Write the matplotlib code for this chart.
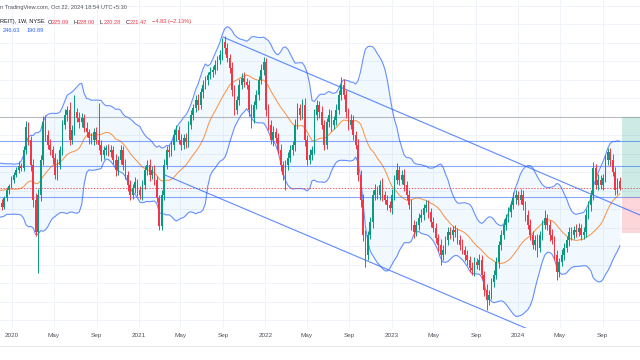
import matplotlib
matplotlib.use("Agg")
import matplotlib.pyplot as plt
import matplotlib.dates as mdates
import numpy as np
import pandas as pd
from matplotlib.lines import Line2D
from matplotlib.patches import Rectangle

plt.rcParams["font.family"] = ["Liberation Sans", "DejaVu Sans"]

# weekly candles (1W, NYSE), first bar 2019-11-25, last bar 2024-10-21
start_week = "2019-11-25"
first_open = 216.0
warmup_closes = [210, 213, 212, 222, 226, 230, 230, 233, 222, 228,
                 226, 222, 224, 225, 218, 215, 208, 212, 216]
closes = [
    213.4, 211.2, 216.1, 220.4, 222.6, 225.8, 228.5, 231.2, 233.4, 232.3,
    242.0, 254.4, 247.4, 233.9, 215.0, 197.7, 217.7, 236.6, 257.1, 250.1,
    244.7, 242.0, 237.7, 228.5, 233.9, 242.0, 255.5, 260.9, 263.6, 247.4,
    252.8, 262.5, 259.3, 257.1, 259.3, 253.9, 251.7, 248.5, 247.4, 251.7,
    247.4, 244.7, 239.3, 242.0, 243.1, 240.9, 242.0, 236.6, 231.2, 236.6,
    242.0, 233.9, 228.5, 223.1, 217.7, 221.5, 224.7, 220.4, 217.7, 223.1,
    231.2, 233.9, 228.5, 231.2, 225.8, 216.1, 201.0, 217.7, 233.9, 242.0,
    240.9, 244.7, 250.1, 252.8, 247.4, 244.7, 248.5, 246.3, 255.5, 260.9,
    264.7, 269.0, 266.3, 273.3, 277.1, 279.8, 282.5, 284.1, 285.2, 287.9,
    290.6, 293.3, 300.3, 297.1, 291.7, 286.3, 274.4, 263.6, 269.0, 277.1,
    280.9, 278.7, 277.1, 263.6, 259.3, 266.3, 271.7, 279.8, 285.2, 289.5,
    263.6, 255.5, 247.4, 251.7, 248.5, 242.0, 233.9, 228.5, 233.9, 237.7,
    242.0, 244.7, 255.5, 264.7, 260.9, 266.3, 247.4, 236.6, 239.3, 242.0,
    260.9, 266.3, 262.5, 255.5, 244.7, 257.1, 260.9, 255.5, 258.2, 263.6,
    271.7, 277.1, 271.7, 262.5, 255.5, 258.2, 250.1, 244.7, 228.5, 215.0,
    196.1, 185.3, 196.1, 203.1, 217.7, 220.4, 217.7, 223.1, 217.7, 215.0,
    212.3, 210.7, 217.7, 225.8, 231.2, 225.8, 228.5, 223.1, 217.7, 212.3,
    201.5, 197.7, 201.5, 205.3, 206.9, 210.7, 212.3, 208.5, 203.1, 199.9,
    194.5, 190.7, 185.3, 188.0, 193.4, 197.7, 196.1, 198.8, 197.7, 193.4,
    190.7, 188.0, 185.3, 182.6, 178.3, 177.2, 181.5, 179.9, 182.6, 174.5,
    166.4, 161.0, 163.7, 170.7, 174.5, 181.5, 190.7, 196.1, 201.5, 205.3,
    208.5, 212.3, 216.1, 217.7, 215.0, 217.7, 212.3, 206.9, 201.5, 196.1,
    190.7, 193.4, 189.1, 196.1, 201.5, 205.3, 201.5, 196.1, 193.4, 185.3,
    176.1, 181.5, 185.3, 189.1, 193.4, 197.7, 196.1, 198.8, 197.7, 199.9,
    196.1, 197.7, 206.9, 212.3, 217.7, 232.3, 223.1, 225.8, 223.1, 226.9,
    236.6, 240.9, 236.6, 230.1, 220.4, 225.1, 221.47,
]
upper_wick = [
    1.5, 2.0, 1.2, 1.8, 1.0, 2.2, 1.4, 1.6, 2.4, 1.8,
    2.0, 3.0, 2.5, 2.0, 3.5, 4.0, 3.0, 2.5, 3.0, 4.0,
    2.5, 3.0, 2.0, 2.5, 3.5, 2.0, 2.5, 3.0, 2.0, 4.5,
    2.5, 9.0, 2.0, 3.0, 2.5, 2.0, 3.0, 1.5, 2.5, 2.0,
    2.5, 20.0, 2.5, 2.0, 1.5, 2.0, 2.5, 2.0, 3.0, 2.0,
    2.5, 2.0, 3.0, 2.0, 2.5, 2.0, 3.0, 1.5, 2.0, 2.5,
    2.0, 2.5, 3.0, 2.0, 2.5, 2.0, 1.5, 2.5, 3.0, 2.0,
    2.5, 2.0, 3.0, 2.5, 2.0, 3.5, 2.0, 2.5, 2.0, 2.5,
    2.0, 2.5, 3.0, 2.0, 2.5, 2.0, 1.5, 2.5, 2.0, 2.5,
    2.0, 2.5, 2.2, 3.0, 2.5, 2.0, 3.0, 2.5, 2.0, 3.5,
    2.5, 3.0, 2.0, 2.5, 3.0, 2.0, 2.5, 2.0, 3.0, 2.7,
    2.0, 3.5, 2.5, 3.0, 2.0, 2.5, 3.0, 2.0, 2.5, 3.0,
    2.5, 2.0, 3.0, 2.5, 2.0, 3.0, 4.0, 2.5, 3.0, 2.0,
    3.0, 2.5, 2.0, 3.0, 2.5, 2.0, 3.0, 2.5, 2.0, 3.0,
    2.5, 4.3, 3.0, 2.5, 2.0, 3.0, 2.5, 2.0, 3.0, 2.5,
    3.0, 2.5, 2.0, 3.0, 2.5, 3.0, 2.0, 2.5, 4.0, 2.0,
    2.5, 2.0, 3.0, 2.5, 3.8, 2.0, 2.5, 3.0, 2.0, 2.5,
    3.0, 2.5, 2.0, 2.5, 3.0, 2.0, 2.7, 2.5, 2.0, 3.0,
    2.5, 2.0, 3.0, 2.5, 2.0, 2.5, 3.0, 2.0, 2.5, 2.0,
    2.5, 3.0, 2.0, 2.5, 2.0, 3.0, 2.5, 2.0, 3.0, 2.5,
    2.0, 3.0, 2.5, 2.0, 2.5, 3.0, 2.0, 2.5, 3.0, 2.0,
    2.5, 2.0, 3.2, 2.5, 2.0, 3.0, 2.5, 2.0, 2.5, 3.0,
    2.0, 2.5, 3.0, 2.0, 2.5, 4.3, 2.0, 2.5, 3.0, 2.0,
    2.5, 2.0, 3.0, 2.5, 2.0, 3.0, 2.5, 2.0, 3.0, 2.5,
    2.0, 2.5, 3.0, 2.0, 2.5, 3.2, 2.0, 3.0, 2.5, 2.0,
    2.5, 2.2, 2.0, 3.0, 2.5, 2.0, 2.53,
]
lower_wick = [
    1.2, 1.8, 1.0, 1.5, 2.0, 1.2, 1.6, 1.0, 1.4, 1.8,
    1.5, 2.0, 2.5, 3.0, 3.5, 2.0, 22.0, 3.0, 2.5, 3.0,
    2.0, 2.5, 3.0, 2.0, 2.5, 2.0, 2.5, 2.0, 3.0, 2.5,
    2.0, 2.5, 2.0, 3.0, 2.5, 2.0, 2.5, 3.0, 2.0, 2.5,
    2.0, 2.5, 3.0, 2.0, 2.5, 2.0, 2.5, 2.0, 3.0, 2.5,
    2.0, 2.5, 2.0, 3.0, 2.5, 2.0, 2.5, 3.0, 2.0, 2.5,
    2.0, 2.5, 3.0, 2.0, 2.5, 2.0, 2.2, 2.0, 2.5, 2.0,
    2.5, 2.0, 2.5, 3.0, 2.0, 2.5, 2.0, 3.0, 2.5, 2.0,
    2.5, 2.0, 2.5, 2.0, 3.0, 2.0, 2.5, 2.0, 2.5, 2.0,
    2.5, 2.0, 2.5, 3.0, 2.0, 2.5, 3.0, 2.5, 2.0, 2.5,
    2.0, 2.5, 2.0, 3.0, 5.4, 2.5, 2.0, 2.5, 2.0, 2.5,
    3.0, 2.5, 2.0, 3.0, 2.5, 2.0, 3.0, 2.5, 8.0, 2.5,
    2.0, 2.5, 3.0, 2.0, 2.5, 2.0, 3.0, 2.5, 2.0, 2.5,
    2.0, 2.5, 3.0, 2.0, 2.5, 2.0, 2.5, 3.0, 2.0, 2.5,
    2.0, 2.5, 2.0, 3.0, 2.5, 2.0, 2.5, 2.0, 3.0, 3.5,
    3.0, 6.5, 2.5, 2.0, 3.0, 2.5, 2.0, 2.5, 3.0, 2.0,
    2.5, 2.0, 3.0, 2.5, 2.0, 2.5, 2.0, 3.0, 2.5, 2.0,
    2.5, 3.0, 2.0, 2.5, 2.0, 2.5, 2.0, 3.0, 2.5, 2.0,
    2.5, 3.0, 5.4, 2.5, 2.0, 2.5, 2.0, 3.0, 2.5, 2.0,
    2.5, 2.0, 3.0, 2.5, 2.0, 2.5, 3.0, 2.0, 2.5, 2.0,
    3.0, 5.4, 2.5, 2.0, 2.5, 2.0, 3.0, 2.5, 2.0, 2.5,
    2.0, 2.5, 2.0, 3.0, 2.5, 2.0, 2.5, 3.0, 2.0, 2.5,
    2.0, 2.5, 4.9, 2.0, 2.5, 2.0, 2.5, 3.0, 2.0, 2.5,
    4.3, 2.5, 2.0, 2.5, 2.0, 3.0, 2.5, 2.0, 2.5, 2.0,
    2.5, 2.0, 2.5, 2.0, 3.0, 2.5, 2.0, 2.5, 2.0, 2.5,
    2.0, 2.5, 3.0, 2.0, 2.5, 2.0, 1.19,
]

# drawings on the chart
levels = [259.8, 246.9, 233.4, 216.6]
level_colors = ["#8a8d96", "#2962FF", "#2962FF", "#2962FF"]
last_close = 221.47
box_start = "2024-10-28"
target_price, entry_price, stop_price = 259.8, 216.6, 197.2
channel_top = [("2021-09-01", 303.0), ("2024-12-18", 206.9)]
channel_bottom = [("2021-03-17", 228.5), ("2024-02-19", 143.7)]

tick_dates = ["2020-01-01", "2020-05-01", "2020-09-01", "2021-01-01", "2021-05-01",
              "2021-09-01", "2022-01-01", "2022-05-01", "2022-09-01", "2023-01-01",
              "2023-05-01", "2023-09-01", "2024-01-01", "2024-05-01", "2024-09-01"]
tick_labels = ["2020", "May", "Sep", "2021", "May", "Sep", "2022", "May", "Sep",
               "2023", "May", "Sep", "2024", "May", "Sep"]

UP, DOWN = "#089981", "#F23645"

# candles
dates = pd.date_range(start_week, periods=len(closes), freq="W-MON")
c = np.array(closes)
o = np.concatenate([[first_open], c[:-1]])
hi = np.maximum(o, c) + np.array(upper_wick)
lo = np.minimum(o, c) - np.array(lower_wick)
xd = mdates.date2num(dates)
colors = np.where(c >= o, UP, DOWN)

# bollinger bands 20, 2
allc = pd.Series(warmup_closes + closes)
basis = allc.rolling(20).mean()
dev = allc.rolling(20).std(ddof=0)
n0 = len(warmup_closes)
bb_up = (basis + 2 * dev).values[n0:]
bb_lo = (basis - 2 * dev).values[n0:]
bb_mid = basis.values[n0:]

fig = plt.figure(figsize=(6.4, 3.6), dpi=100)
ax = fig.add_axes([0, 32 / 360, 1, 328 / 360])
ax.set_xlim(mdates.datestr2num("2019-11-27"), mdates.datestr2num("2024-12-18"))
ax.set_ylim(145.9, 323.0)
for s in ax.spines.values():
    s.set_visible(False)

# grid
for p in range(150, 330, 10):
    ax.axhline(p, color="#f0f3fa", lw=0.7, zorder=0)
tx = mdates.datestr2num(tick_dates)
for t in tx:
    ax.axvline(t, color="#f0f3fa", lw=0.7, zorder=0)
ax.set_xticks(tx)
ax.set_xticklabels(tick_labels)
ax.set_yticks([])
ax.tick_params(axis="x", length=0, pad=3.5, labelsize=4.6, labelcolor="#50535e")

# bands
ax.fill_between(xd, bb_lo, bb_up, color="#2196F3", alpha=0.06, lw=0, zorder=1)
ax.plot(xd, bb_up, color="#2962FF", lw=0.8, alpha=0.7, zorder=2)
ax.plot(xd, bb_lo, color="#2962FF", lw=0.8, alpha=0.7, zorder=2)
ax.plot(xd, bb_mid, color="#FF6D00", lw=0.7, alpha=0.75, zorder=2)

# horizontal levels
for lv, col in zip(levels, level_colors):
    ax.axhline(lv, color=col, lw=0.8, alpha=0.55, zorder=2)
ax.axhline(last_close, color=DOWN, lw=0.7, ls=(0, (1.5, 1.5)), alpha=0.8, zorder=2)

# channel
for line in (channel_top, channel_bottom):
    xs = mdates.datestr2num([p[0] for p in line])
    ys = [p[1] for p in line]
    ax.plot(xs, ys, color="#2962FF", lw=0.8, alpha=0.75, zorder=3)

# long position box
bx = mdates.datestr2num(box_start)
bw = mdates.datestr2num("2025-03-01") - bx
ax.add_patch(Rectangle((bx, entry_price), bw, target_price - entry_price,
                       facecolor=UP, alpha=0.2, lw=0, zorder=2))
ax.add_patch(Rectangle((bx, stop_price), bw, entry_price - stop_price,
                       facecolor=DOWN, alpha=0.2, lw=0, zorder=2))

# candles
ax.vlines(xd, lo, hi, colors=colors, lw=0.7, zorder=4)
body = np.maximum(np.abs(c - o), 0.4)
ax.bar(xd, body, bottom=np.minimum(o, c), width=4.8, color=colors, lw=0, zorder=5)

# header text
def px(x, y):
    return x / 640, 1 - y / 360

fs = 4.1
fig.text(*px(0, 7), "n TradingView.com, Oct 22, 2024 18:54 UTC+5:30",
         fontsize=fs, color="#50535e", va="center")
fig.text(*px(0, 22), "REIT), 1W, NYSE", fontsize=fs, color="#131722", va="center")
parts = [(48, "O", "225.09"), (74, "H", "228.00"), (100, "L", "220.28"), (126, "C", "221.47")]
for x, k, v in parts:
    fig.text(*px(x, 22), k, fontsize=fs, color="#131722", va="center")
    fig.text(*px(x + 4.0, 22), v, fontsize=fs, color=DOWN, va="center")
fig.text(*px(152, 22), "\u22124.83 (\u22122.13%)", fontsize=fs, color=DOWN, va="center")
fig.text(*px(3, 30), "246.63", fontsize=fs, color="#2962FF", va="center")
fig.text(*px(27, 30), "190.89", fontsize=fs, color="#2962FF", va="center")

fig.add_artist(Line2D([0, 1], [14 / 360, 14 / 360], color="#e0e3eb", lw=0.6))

fig.savefig("out.png", dpi=100)
